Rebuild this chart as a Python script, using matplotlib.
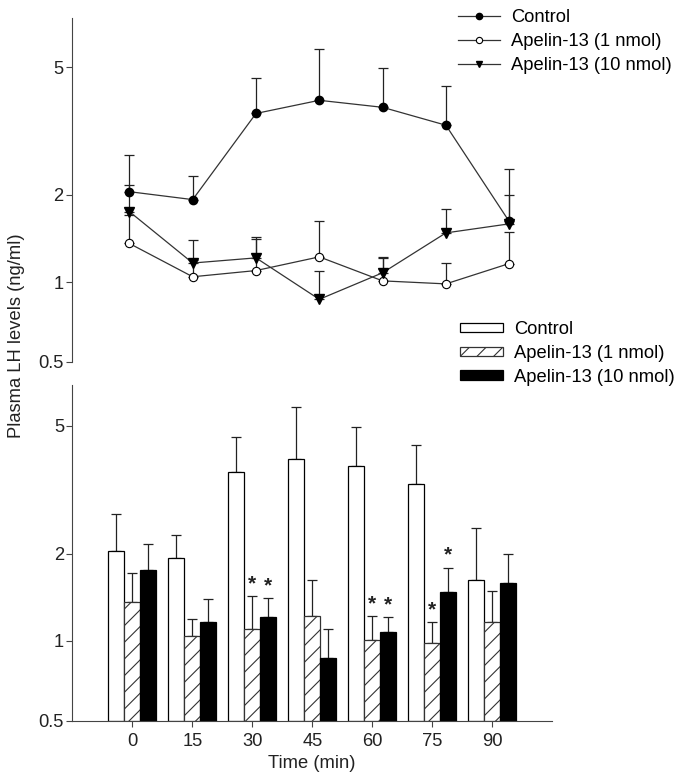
import numpy as np
import matplotlib
matplotlib.use("Agg")
import matplotlib.pyplot as plt
from matplotlib.patches import Patch
from matplotlib.lines import Line2D

plt.rcParams['font.family'] = ['Liberation Sans', 'DejaVu Sans']
plt.rcParams['hatch.color'] = '#555555'
plt.rcParams['hatch.linewidth'] = 0.8

# data (ng/ml, mean and upper SEM)
times = [0, 15, 30, 45, 60, 75, 90]
control = [2.05, 1.93, 3.63, 3.98, 3.79, 3.34, 1.63]
control_sem = [0.64, 0.37, 1.01, 1.67, 1.17, 1.04, 0.80]
apelin1 = [1.37, 1.045, 1.10, 1.23, 1.01, 0.985, 1.165]
apelin1_sem = [0.35, 0.155, 0.34, 0.40, 0.22, 0.185, 0.335]
apelin10 = [1.76, 1.17, 1.22, 0.865, 1.08, 1.49, 1.60]
apelin10_sem = [0.40, 0.24, 0.20, 0.235, 0.14, 0.31, 0.40]
sig_apelin1 = [30, 60, 75]
sig_apelin10 = [30, 60, 75]

labels = ['Control', 'Apelin-13 (1 nmol)', 'Apelin-13 (10 nmol)']
yticks = [0.5, 1, 2, 5]
ytick_labels = ['0.5', '1', '2', '5']

fs = 13.2
p = 0.13


def fwd(y):
    return np.power(np.clip(y, 1e-6, None), p)


def inv(y):
    return np.power(np.clip(y, 1e-6, None), 1.0 / p)


def style_y(ax, top):
    ax.set_yscale('function', functions=(fwd, inv))
    ax.set_ylim(0.5, top)
    ax.set_yticks(yticks)
    ax.set_yticklabels(ytick_labels)
    ax.minorticks_off()
    ax.spines['top'].set_visible(False)
    ax.spines['right'].set_visible(False)
    ax.spines['left'].set_color('#444444')
    ax.spines['bottom'].set_color('#444444')
    ax.tick_params(axis='y', direction='out', length=4, width=0.8, pad=2,
                   labelsize=fs, colors='#444444', labelcolor='#222222')


fig = plt.figure(figsize=(6.78, 7.78), dpi=100)
W, H = 678.0, 778.0

# ---- top panel: lines
ax1 = fig.add_axes([72 / W, 1 - 361.7 / H, 500.5 / W, 343.4 / H])
style_y(ax1, 6.9)
ax1.spines['bottom'].set_visible(False)
ax1.set_xticks([])
ax1.set_xlim(-13.6, 105)

zeros = np.zeros(len(times))
for vals, sem in [(control, control_sem), (apelin1, apelin1_sem), (apelin10, apelin10_sem)]:
    ax1.errorbar(times, vals, yerr=[zeros, sem], fmt='none', ecolor='#222222',
                 elinewidth=0.9, capsize=3.6, capthick=0.9, zorder=2)

ax1.plot(times, control, '-o', color='#333333', lw=0.9, ms=6,
         mfc='black', mec='black', zorder=3)
ax1.plot(times, apelin1, '-o', color='#333333', lw=0.9, ms=6,
         mfc='white', mec='black', mew=0.8, zorder=3)
ax1.plot(times, apelin10, '-v', color='#333333', lw=0.9, ms=6.5,
         mfc='black', mec='black', zorder=3)

line_handles = [
    Line2D([], [], color='#333333', lw=0.9, marker='o', ms=4.5, mfc='black', mec='black'),
    Line2D([], [], color='#333333', lw=0.9, marker='o', ms=4.5, mfc='white', mec='black', mew=0.8),
    Line2D([], [], color='#333333', lw=0.9, marker='v', ms=5, mfc='black', mec='black'),
]
fig.legend(line_handles, labels, loc='upper left', bbox_to_anchor=(458 / W, 1 - 9 / H),
           frameon=False, fontsize=fs, handlelength=2.3, handletextpad=0.6,
           labelspacing=0.38, borderpad=0, borderaxespad=0)

# ---- bottom panel: bars
ax2 = fig.add_axes([72.3 / W, 1 - 720.7 / H, 480 / W, 335.7 / H])
style_y(ax2, 6.55)
ax2.set_xlim(-15, 105)
ax2.set_xticks(times)
ax2.set_xticklabels([str(t) for t in times])
ax2.tick_params(axis='x', direction='out', length=4, width=0.8, pad=5,
                labelsize=fs, colors='#444444', labelcolor='#222222')

bw = 4.0
t = np.array(times, dtype=float)
series = [
    (control, control_sem, -bw, dict(facecolor='white', edgecolor='black', hatch=None)),
    (apelin1, apelin1_sem, 0.0, dict(facecolor='white', edgecolor='#333333', hatch='//')),
    (apelin10, apelin10_sem, bw, dict(facecolor='black', edgecolor='black', hatch=None)),
]
for vals, sem, off, st in series:
    v = np.array(vals)
    ax2.bar(t + off, v - 0.5, bottom=0.5, width=bw, linewidth=0.9, zorder=2, **st)
    ax2.errorbar(t + off, v, yerr=[zeros, sem], fmt='none', ecolor='#222222',
                 elinewidth=0.9, capsize=3.6, capthick=0.9, zorder=1)

for sig, vals, sem, off in [(sig_apelin1, apelin1, apelin1_sem, 0.0),
                            (sig_apelin10, apelin10, apelin10_sem, bw)]:
    for tt in sig:
        i = times.index(tt)
        ax2.annotate('*', xy=(tt + off, vals[i] + sem[i]), xytext=(0, 2),
                     textcoords='offset points', ha='center', va='bottom',
                     fontsize=15, fontweight='bold', color='#222222')

bar_handles = [
    Patch(facecolor='white', edgecolor='black', linewidth=0.9),
    Patch(facecolor='white', edgecolor='#333333', hatch='//', linewidth=0.9),
    Patch(facecolor='black', edgecolor='black', linewidth=0.9),
]
fig.legend(bar_handles, labels, loc='upper left', bbox_to_anchor=(460 / W, 1 - 321 / H),
           frameon=False, fontsize=fs, handlelength=2.35, handleheight=0.45,
           handletextpad=0.6, labelspacing=0.38, borderpad=0, borderaxespad=0)

fig.text(17 / W, 1 - 336 / H, 'Plasma LH levels (ng/ml)', rotation=90,
         ha='center', va='center', fontsize=fs, color='#222222')
fig.text(312 / W, 1 - 764 / H, 'Time (min)', ha='center', va='center',
         fontsize=fs, color='#222222')

fig.savefig('out.png', dpi=100)
